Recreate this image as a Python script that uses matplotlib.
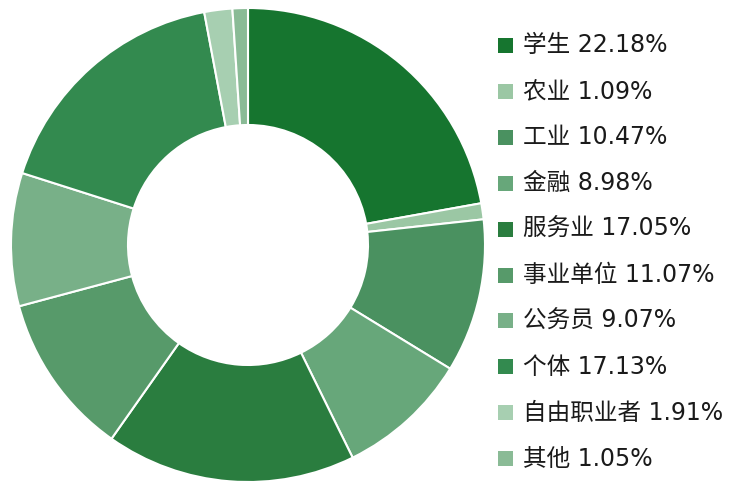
import matplotlib.pyplot as plt
from matplotlib.patches import Rectangle

plt.rcParams['font.family'] = ['DejaVu Sans', 'Noto Sans CJK SC']

# data
labels = ['学生', '农业', '工业', '金融', '服务业', '事业单位', '公务员', '个体', '自由职业者', '其他']
values = [22.18, 1.09, 10.47, 8.98, 17.05, 11.07, 9.07, 17.13, 1.91, 1.05]
colors = ['#16752f', '#9bc7a4', '#4a9160', '#67a77a', '#2a7d3f',
          '#579a6a', '#78b088', '#338a4f', '#a7cfb1', '#8abb96']

W, H = 746, 484
fig = plt.figure(figsize=(W / 100, H / 100), dpi=100)

# donut
cx, cy, r = 248, 245, 237
ax = fig.add_axes([(cx - r) / W, (H - cy - r) / H, 2 * r / W, 2 * r / H])
ax.pie(values, colors=colors, startangle=90, counterclock=False, radius=1,
       wedgeprops=dict(width=1 - 120 / 237, edgecolor='white', linewidth=1.5))
ax.set_xlim(-1, 1)
ax.set_ylim(-1, 1)
ax.set_aspect('equal')
ax.axis('off')

# legend
y0, dy = 45.5, 45.9
for i, (lab, val, col) in enumerate(zip(labels, values, colors)):
    y = y0 + i * dy
    fig.patches.append(Rectangle((498 / W, (H - y - 7.5) / H), 15 / W, 15 / H,
                                 transform=fig.transFigure, facecolor=col,
                                 edgecolor='none'))
    fig.text(523 / W, (H - y) / H, f'{lab} {val:.2f}%', fontsize=17,
             color='#1a1a1a', va='center', ha='left')

fig.savefig('out.png', dpi=100)
